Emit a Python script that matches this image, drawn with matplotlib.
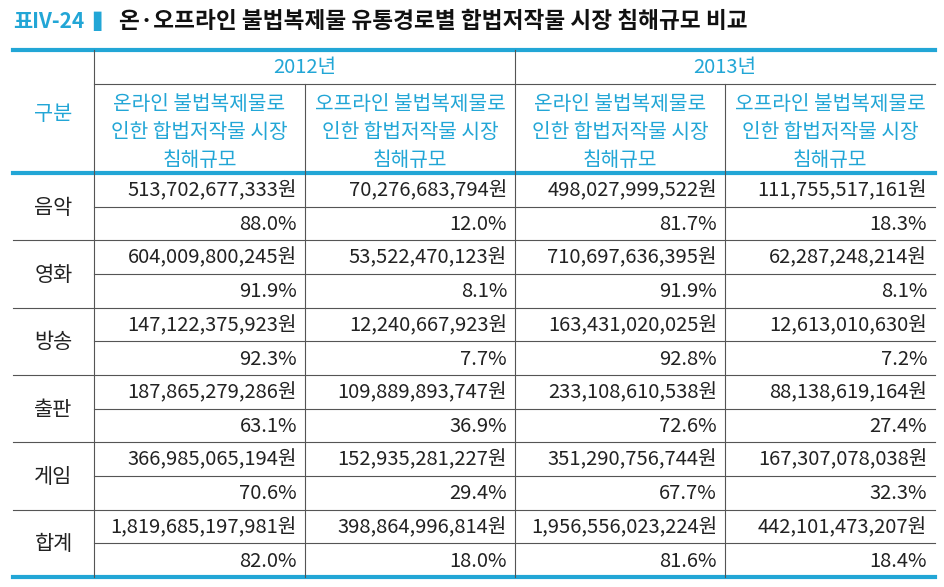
import matplotlib.pyplot as plt

plt.rcParams['font.family'] = ['Noto Sans CJK KR', 'DejaVu Sans']

# data
categories = ['음악', '영화', '방송', '출판', '게임', '합계']
years = ['2012년', '2013년']
col_head = '온라인 불법복제물로\n인한 합법저작물 시장\n침해규모'
col_head2 = '오프라인 불법복제물로\n인한 합법저작물 시장\n침해규모'
online_2012 = ['513,702,677,333', '604,009,800,245', '147,122,375,923',
               '187,865,279,286', '366,985,065,194', '1,819,685,197,981']
offline_2012 = ['70,276,683,794', '53,522,470,123', '12,240,667,923',
                '109,889,893,747', '152,935,281,227', '398,864,996,814']
online_2013 = ['498,027,999,522', '710,697,636,395', '163,431,020,025',
               '233,108,610,538', '351,290,756,744', '1,956,556,023,224']
offline_2013 = ['111,755,517,161', '62,287,248,214', '12,613,010,630',
                '88,138,619,164', '167,307,078,038', '442,101,473,207']
pct_on_2012 = [88.0, 91.9, 92.3, 63.1, 70.6, 82.0]
pct_off_2012 = [12.0, 8.1, 7.7, 36.9, 29.4, 18.0]
pct_on_2013 = [81.7, 91.9, 92.8, 72.6, 67.7, 81.6]
pct_off_2013 = [18.3, 8.1, 7.2, 27.4, 32.3, 18.4]

title = '온·오프라인 불법복제물 유통경로별 합법저작물 시장 침해규모 비교'

blue = '#22a6d6'
line_gray = '#555555'
txt = '#222222'

fig = plt.figure(figsize=(9.44, 5.87), dpi=100)
ax = fig.add_axes([0, 0, 1, 1])
ax.set_xlim(0, 944)
ax.set_ylim(587, 0)
ax.axis('off')

# layout
x0, x1 = 13, 935
cols = [94, 305, 515, 725, 935]
y_top, y_year, y_head = 50, 84, 173
y_bot = 577
gh = (y_bot - y_head) / len(categories)

# title
ax.text(13, 21, '표IV-24', color=blue, fontsize=15, fontweight='bold', va='center')
ax.text(93, 21, '▌', color=blue, fontsize=14, va='center', family='DejaVu Sans')
ax.text(119, 21, title, color='#111111', fontsize=16.3, fontweight='bold', va='center')

# lines
ax.plot([x0, x1], [y_top, y_top], color=blue, lw=3)
ax.plot([x0, x1], [y_head, y_head], color=blue, lw=3)
ax.plot([x0, x1], [y_bot, y_bot], color=blue, lw=3)
ax.plot([cols[0], x1], [y_year, y_year], color=line_gray, lw=0.8)
for c in [cols[0], cols[2]]:
    ax.plot([c, c], [y_top, y_bot], color=line_gray, lw=0.8)
for c in [cols[1], cols[3]]:
    ax.plot([c, c], [y_year, y_bot], color=line_gray, lw=0.8)
for i in range(1, len(categories)):
    y = y_head + i * gh
    ax.plot([x0, x1], [y, y], color=line_gray, lw=0.8)
for i in range(len(categories)):
    y = y_head + i * gh + gh / 2
    ax.plot([cols[0], x1], [y, y], color=line_gray, lw=0.8)

# header
ax.text((x0 + cols[0]) / 2, (y_top + y_head) / 2 + 2, '구분', color=blue,
        fontsize=15, ha='center', va='center')
for j, yr in enumerate(years):
    ax.text((cols[2 * j] + cols[2 * j + 2]) / 2, (y_top + y_year) / 2 + 1, yr,
            color=blue, fontsize=14.5, ha='center', va='center')
    for k, h in enumerate([col_head, col_head2]):
        c = 2 * j + k
        ax.text((cols[c] + cols[c + 1]) / 2, (y_year + y_head) / 2 + 4, h,
                color=blue, fontsize=14.6, ha='center', va='center',
                linespacing=1.42)

# body
amounts = [online_2012, offline_2012, online_2013, offline_2013]
pcts = [pct_on_2012, pct_off_2012, pct_on_2013, pct_off_2013]
for i, cat in enumerate(categories):
    ytop = y_head + i * gh
    ax.text((x0 + cols[0]) / 2, ytop + gh / 2 + 1, cat, color=txt,
            fontsize=15, ha='center', va='center')
    for c in range(4):
        xr = cols[c + 1] - 8
        ax.text(xr, ytop + gh / 4 + 1, amounts[c][i] + '원', color=txt,
                fontsize=14.5, ha='right', va='center')
        ax.text(xr, ytop + 3 * gh / 4 + 1, f'{pcts[c][i]:.1f}%', color=txt,
                fontsize=14.5, ha='right', va='center')

fig.savefig('out.png', dpi=100)
